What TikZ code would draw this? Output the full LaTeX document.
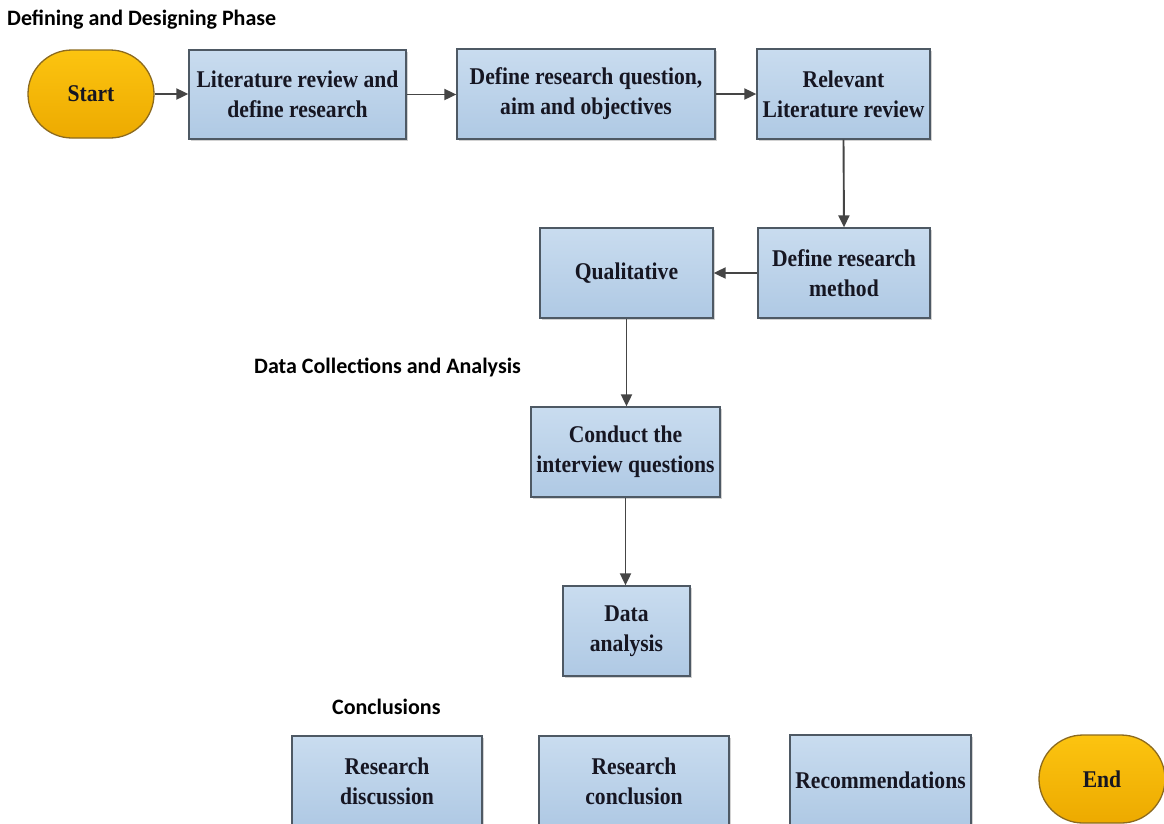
\documentclass[tikz,border=0pt]{standalone}
\usepackage{fontspec}
\usetikzlibrary{arrows.meta,shadows}
\newfontfamily\boxfont[FakeStretch=0.9]{Liberation Serif}
\newfontfamily\headfont{Carlito}
\definecolor{boxtop}{HTML}{C9DCEF}
\definecolor{boxbot}{HTML}{AFC9E4}
\definecolor{boxline}{HTML}{4E5964}
\definecolor{termtop}{HTML}{FCC410}
\definecolor{termbot}{HTML}{EDAA00}
\definecolor{termline}{HTML}{8C6A1E}
\definecolor{arrowcol}{HTML}{454545}
\definecolor{txt}{HTML}{161622}
\tikzset{
  procbox/.style={draw=boxline, line width=1.3pt, top color=boxtop, bottom color=boxbot,
    inner sep=0pt, align=center, text=txt,
    font=\boxfont\bfseries\fontsize{24}{30}\selectfont,
    drop shadow={shadow xshift=1.5pt, shadow yshift=-1.5pt, opacity=0.35}},
  termbox/.style={draw=termline, line width=1.3pt, top color=termtop, bottom color=termbot,
    rounded corners=44pt, inner sep=0pt, align=center, text=txt,
    minimum width=126pt, minimum height=88pt,
    font=\boxfont\bfseries\fontsize{24}{30}\selectfont},
  phase/.style={anchor=west, inner sep=0pt, text=black,
    font=\headfont\bfseries\fontsize{22}{26}\selectfont},
  flow/.style={draw=arrowcol, line width=1.9pt, -{Triangle[length=12pt,width=11pt]}}
}
\begin{document}
\begin{tikzpicture}[x=1pt,y=-1pt]
  \clip (0,0) rectangle (1164,823);
  \fill[white] (0,0) rectangle (1164,823);

  % phase headings
  \node[phase] (h1) at (7,20) {Defining and Designing Phase};
  \node[phase] (h2) at (254,367) {Data Collections and Analysis};
  \node[phase] (h3) at (332,707) {Conclusions};

  % defining and designing
  \node[termbox] (start) at (91,94) {Start};
  \node[procbox, minimum width=217pt, minimum height=89pt] (lit) at (297.5,94.5)
    {Literature review and\\define research};
  \node[procbox, minimum width=258pt, minimum height=90pt] (drq) at (586,94)
    {Define research question,\\aim and objectives};
  \node[procbox, minimum width=173pt, minimum height=90pt] (rel) at (843.5,94)
    {Relevant\\Literature review};
  \node[procbox, minimum width=172pt, minimum height=90pt] (meth) at (844,273)
    {Define research\\method};
  \node[procbox, minimum width=173pt, minimum height=90pt] (qual) at (626.5,273)
    {Qualitative};

  % data collection and analysis
  \node[procbox, minimum width=189pt, minimum height=90pt] (cond) at (625.5,452)
    {Conduct the\\interview questions};
  \node[procbox, minimum width=127pt, minimum height=90pt] (da) at (626.5,631)
    {Data\\analysis};

  % conclusions
  \node[procbox, minimum width=190pt, minimum height=90pt] (rd) at (387,781)
    {Research\\discussion};
  \node[procbox, minimum width=190pt, minimum height=90pt] (rc) at (634,781)
    {Research\\conclusion};
  \node[procbox, minimum width=181pt, minimum height=90pt] (rec) at (880.5,780)
    {Recommendations};
  \node[termbox] (end) at (1102,779) {End};

  % connectors
  \draw[flow] (start.east) -- (lit.west |- start.east);
  \draw[flow] (lit.east) -- (drq.west |- lit.east);
  \draw[flow] (drq.east) -- (rel.west |- drq.east);
  \draw[flow] (rel.south) -- (meth.north);
  \draw[flow] (meth.west) -- (qual.east);
  \draw[flow] (qual.south) -- (cond.north -| qual.south);
  \draw[flow] (cond.south) -- (da.north -| cond.south);
\end{tikzpicture}
\end{document}
